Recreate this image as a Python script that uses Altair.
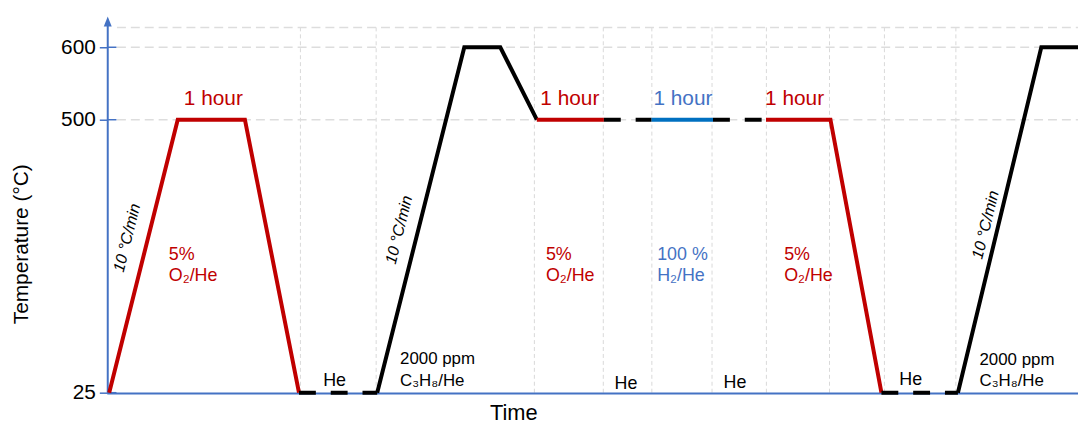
import altair as alt
import pandas as pd

RED = "#C00000"
BLUE_LINE = "#0070C0"
BLUE_TXT = "#4472C4"
AXIS = "#4472C4"
GRID = "#D9D9D9"
FONT = "Liberation Sans"

# ---- temperature programme (time in arbitrary units, temperature in °C) ----
bp_time = [0.2, 7.26, 14.18, 19.75, 27.81, 36.78, 40.49, 44.25, 51.16, 56.05,
           62.4, 67.86, 74.5, 79.75, 87.63, 96.22, 100.0]
bp_temp = [25, 500, 500, 25, 25, 600, 600, 500, 500, 500,
           500, 500, 500, 25, 25, 600, 600]
# gas of each interval between consecutive breakpoints
seg_kind = ["O2", "O2", "O2", "He", "C3H8", "C3H8", "C3H8", "O2", "He", "H2",
            "He", "O2", "O2", "He", "C3H8", "C3H8"]

# gridlines
vgrid_time = [19.9, 27.7, 44.0, 51.1, 56.1, 62.3, 67.9, 74.4, 80.06, 87.42]
hgrid_temp = [500, 600, 627]
tick_temp = [25, 500, 600]

# annotations
hour_text = ["1 hour", "1 hour", "1 hour", "1 hour"]
hour_kind = ["O2", "O2", "H2", "O2"]
hour_time = [10.93, 47.65, 59.3, 70.8]
hour_temp = [521, 521, 521, 521]

gas_text = ["5%\nO₂/He", "5%\nO₂/He", "100 %\nH₂/He", "5%\nO₂/He"]
gas_kind = ["O2", "O2", "H2", "O2"]
gas_time = [6.34, 45.19, 56.65, 69.73]
gas_temp = [256.5, 256.5, 256.5, 256.5]

he_text = ["He", "He", "He", "He"]
he_time = [23.42, 53.43, 64.67, 82.77]
he_temp = [36.6, 30.7, 32.3, 38.8]

prop_text = ["2000 ppm\nC₃H₈/He", "2000 ppm\nC₃H₈/He"]
prop_time = [30.16, 89.85]
prop_temp = [75, 74]

rate_text = ["10 °C/min", "10 °C/min", "10 °C/min"]
rate_time = [2.04, 30.06, 90.49]
rate_temp = [294.4, 308.2, 316.9]

# style lookups (kept apart from the data)
LINE_COLOR = {"O2": RED, "H2": BLUE_LINE, "C3H8": "#000000", "He": "#000000"}
TEXT_COLOR = {"O2": RED, "H2": BLUE_TXT}

# ---- build line runs ----
rows = []
run = 0
for i, k in enumerate(seg_kind):
    if i > 0 and k != seg_kind[i - 1]:
        run += 1
    if i == 0 or k != seg_kind[i - 1]:
        rows.append(dict(run=run, kind=k, time=bp_time[i], temp=bp_temp[i], order=i))
    rows.append(dict(run=run, kind=k, time=bp_time[i + 1], temp=bp_temp[i + 1], order=i + 1))
prof = pd.DataFrame(rows)
prof["c"] = prof["kind"].map(LINE_COLOR)
solid = prof[prof.kind != "He"]
dashed = prof[prof.kind == "He"]

xs = alt.Scale(domain=[0, 100], nice=False, zero=False)
ys = alt.Scale(domain=[25, 500, 600, 627], range=[368, 93, 20, 0], nice=False, zero=False)

X = alt.X("time:Q", scale=xs, axis=alt.Axis(
    domain=False, ticks=False, labels=False, grid=False, title="Time",
    titleFont=FONT, titleFontSize=22, titleFontWeight="normal", titleColor="black",
    titleX=409, titleY=27, titleAlign="center", titleBaseline="alphabetic"))
Y = alt.Y("temp:Q", scale=ys, axis=alt.Axis(
    values=tick_temp, domain=False, grid=False, ticks=True, tickSize=8, tickColor=AXIS,
    tickWidth=1.5, labelFont=FONT, labelFontSize=21, labelColor="black", labelPadding=4,
    title="Temperature (°C)", titleFont=FONT, titleFontSize=21, titleFontWeight="normal",
    titleColor="black", titleX=-80, titleY=218, titleAlign="center",
    titleBaseline="alphabetic", titleAngle=270))

vgrid = alt.Chart(pd.DataFrame({"time": vgrid_time})).mark_rule(
    color=GRID, strokeWidth=1, strokeDash=[4, 3]).encode(x=alt.X("time:Q", scale=xs))
hgrid = alt.Chart(pd.DataFrame({"temp": hgrid_temp})).mark_rule(
    color="#DDDDDD", strokeWidth=1.5, strokeDash=[9, 5]).encode(
    y=alt.Y("temp:Q", scale=ys), x=alt.datum(1.0), x2=alt.datum(100))

base = alt.Chart(pd.DataFrame({"temp": tick_temp})).mark_point(opacity=0).encode(x=alt.datum(0), y=Y)
xaxis_holder = alt.Chart(pd.DataFrame({"time": [0]})).mark_point(opacity=0).encode(x=X, y=alt.datum(25))

inner_ticks = alt.Chart(pd.DataFrame({"temp": tick_temp})).mark_rule(
    color=AXIS, strokeWidth=1.5).encode(y=alt.Y("temp:Q", scale=ys), x=alt.datum(0), x2=alt.datum(0.95))
yline = alt.Chart(pd.DataFrame({"a": [0]})).mark_rule(color=AXIS, strokeWidth=2).encode(
    x=alt.datum(0.05), y=alt.datum(25), y2=alt.datum(634))
arrow = alt.Chart(pd.DataFrame({"a": [0]})).mark_point(
    shape="M0,-1L0.8,1L-0.8,1Z", filled=True, color=AXIS, opacity=1, size=100).encode(
    x=alt.datum(0.05), y=alt.datum(635))
xline = alt.Chart(pd.DataFrame({"a": [0]})).mark_rule(color=AXIS, strokeWidth=2).encode(
    y=alt.datum(23.5), x=alt.datum(0), x2=alt.datum(100))

solid_lines = alt.Chart(solid).mark_line(strokeWidth=4, strokeCap="butt").encode(
    x=alt.X("time:Q", scale=xs), y=alt.Y("temp:Q", scale=ys), order="order:Q",
    detail="run:N", color=alt.Color("c:N", scale=None, legend=None))
dashed_lines = alt.Chart(dashed).mark_line(strokeWidth=4, strokeCap="butt", strokeDash=[17, 15],
                                           color="#000000").encode(
    x=alt.X("time:Q", scale=xs), y=alt.Y("temp:Q", scale=ys), order="order:Q", detail="run:N")

hour_df = pd.DataFrame({"t": hour_text, "k": hour_kind, "time": hour_time, "temp": hour_temp})
hour_df["c"] = hour_df["k"].map(TEXT_COLOR)
gas_df = pd.DataFrame({"t": gas_text, "k": gas_kind, "time": gas_time, "temp": gas_temp})
gas_df["c"] = gas_df["k"].map(TEXT_COLOR)

hours = alt.Chart(hour_df).mark_text(
    font=FONT, fontSize=21, align="center", baseline="alphabetic").encode(
    x=alt.X("time:Q", scale=xs), y=alt.Y("temp:Q", scale=ys), text="t:N",
    color=alt.Color("c:N", scale=None, legend=None))
gases = alt.Chart(gas_df).mark_text(
    font=FONT, fontSize=18, align="left", baseline="alphabetic", lineBreak="\n", lineHeight=22).encode(
    x=alt.X("time:Q", scale=xs), y=alt.Y("temp:Q", scale=ys), text="t:N",
    color=alt.Color("c:N", scale=None, legend=None))
hes = alt.Chart(pd.DataFrame({"t": he_text, "time": he_time, "temp": he_temp})).mark_text(
    font=FONT, fontSize=18, align="center", baseline="alphabetic", color="black").encode(
    x=alt.X("time:Q", scale=xs), y=alt.Y("temp:Q", scale=ys), text="t:N")
props = alt.Chart(pd.DataFrame({"t": prop_text, "time": prop_time, "temp": prop_temp})).mark_text(
    font=FONT, fontSize=17, align="left", baseline="alphabetic", lineBreak="\n", lineHeight=22,
    color="black").encode(
    x=alt.X("time:Q", scale=xs), y=alt.Y("temp:Q", scale=ys), text="t:N")
rates = alt.Chart(pd.DataFrame({"t": rate_text, "time": rate_time, "temp": rate_temp})).mark_text(
    font=FONT, fontSize=16, fontStyle="italic", align="center", baseline="middle", angle=284,
    color="black").encode(
    x=alt.X("time:Q", scale=xs), y=alt.Y("temp:Q", scale=ys), text="t:N")

chart = alt.layer(
    base, xaxis_holder, vgrid, hgrid, inner_ticks, yline, arrow, xline,
    solid_lines, dashed_lines, hours, gases, hes, props, rates
).properties(
    width=978, height=368,
    autosize=alt.AutoSizeParams(type="none"),
    padding={"left": 100, "top": 18, "right": 0, "bottom": 31},
).configure_view(stroke=None)

chart.save("out.html", embed_options={"renderer": "svg", "actions": False})
